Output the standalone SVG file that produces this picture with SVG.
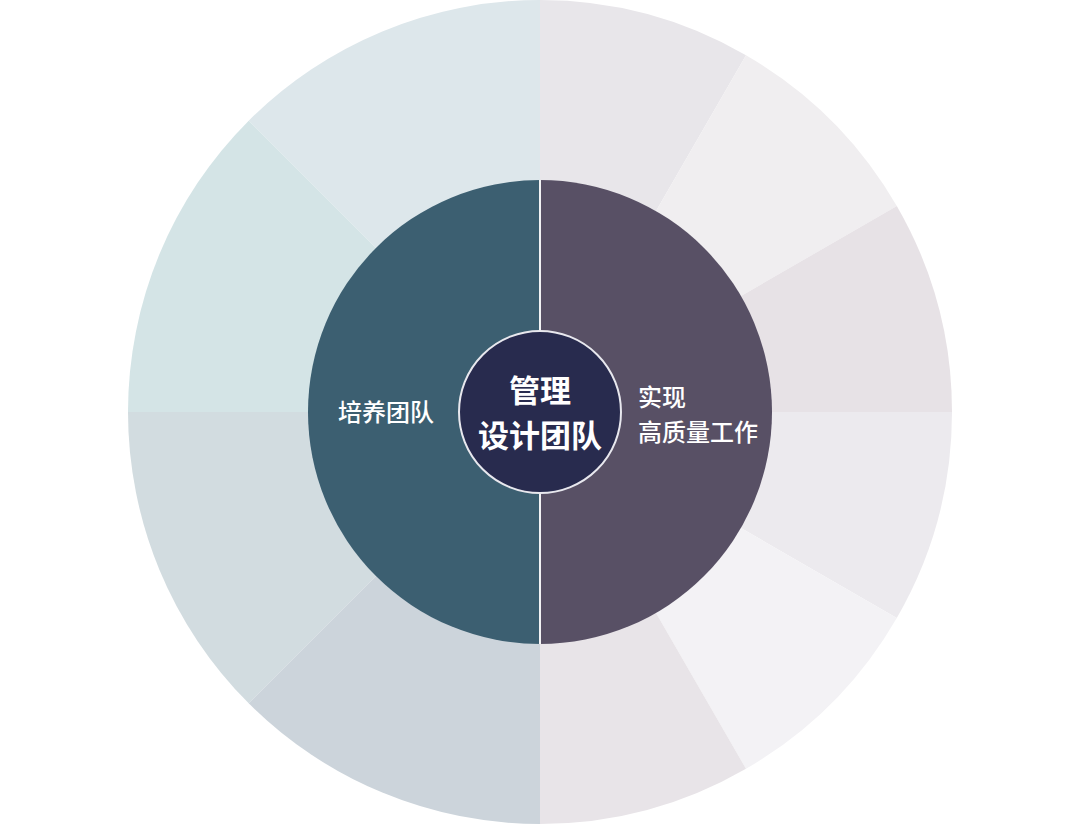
<svg xmlns="http://www.w3.org/2000/svg" width="1080" height="825" viewBox="0 0 1080 825">
<style>
text{font-family:"Noto Sans CJK SC","Noto Sans",sans-serif;fill:#ffffff}
.lbl{font-size:24px;font-weight:500}
.ctr{font-size:31px;font-weight:700}
</style>
<rect width="1080" height="825" fill="#ffffff"/>
<g id="outer-ring">
<path d="M540,412 L540,0 A412,412 0 0,0 248.7,120.7 Z" fill="#DDE7EB"/>
<path d="M540,412 L248.7,120.7 A412,412 0 0,0 128,412 Z" fill="#D4E4E6"/>
<path d="M540,412 L128,412 A412,412 0 0,0 248.7,703.3 Z" fill="#D2DCE0"/>
<path d="M540,412 L248.7,703.3 A412,412 0 0,0 540,824 Z" fill="#CCD4DB"/>
<path d="M540,412 L540,0 A412,412 0 0,1 746,55.2 Z" fill="#E8E6EA"/>
<path d="M540,412 L746,55.2 A412,412 0 0,1 896.8,206 Z" fill="#F0EEF0"/>
<path d="M540,412 L896.8,206 A412,412 0 0,1 952,412 Z" fill="#E7E2E6"/>
<path d="M540,412 L952,412 A412,412 0 0,1 896.8,618 Z" fill="#ECEAEE"/>
<path d="M540,412 L896.8,618 A412,412 0 0,1 746,768.8 Z" fill="#F3F2F5"/>
<path d="M540,412 L746,768.8 A412,412 0 0,1 540,824 Z" fill="#E8E4E8"/>
</g>
<g id="node-left">
<path d="M540,180 A232,232 0 0,0 540,644 Z" fill="#3C5F71"/>
<text class="lbl" x="338" y="421">培养团队</text>
</g>
<g id="node-right">
<path d="M540,180 A232,232 0 0,1 540,644 Z" fill="#585065"/>
<text class="lbl" x="638" y="406">实现</text>
<text class="lbl" x="638" y="441">高质量工作</text>
</g>
<g id="connectors">
<line x1="540" y1="180" x2="540" y2="644" stroke="#F2F2F4" stroke-width="2"/>
</g>
<g id="node-center">
<circle cx="540" cy="412" r="81" fill="#282B4E" stroke="#E8E8EE" stroke-width="2"/>
<text class="ctr" x="540" y="402" text-anchor="middle">管理</text>
<text class="ctr" x="540" y="447" text-anchor="middle">设计团队</text>
</g>
</svg>
